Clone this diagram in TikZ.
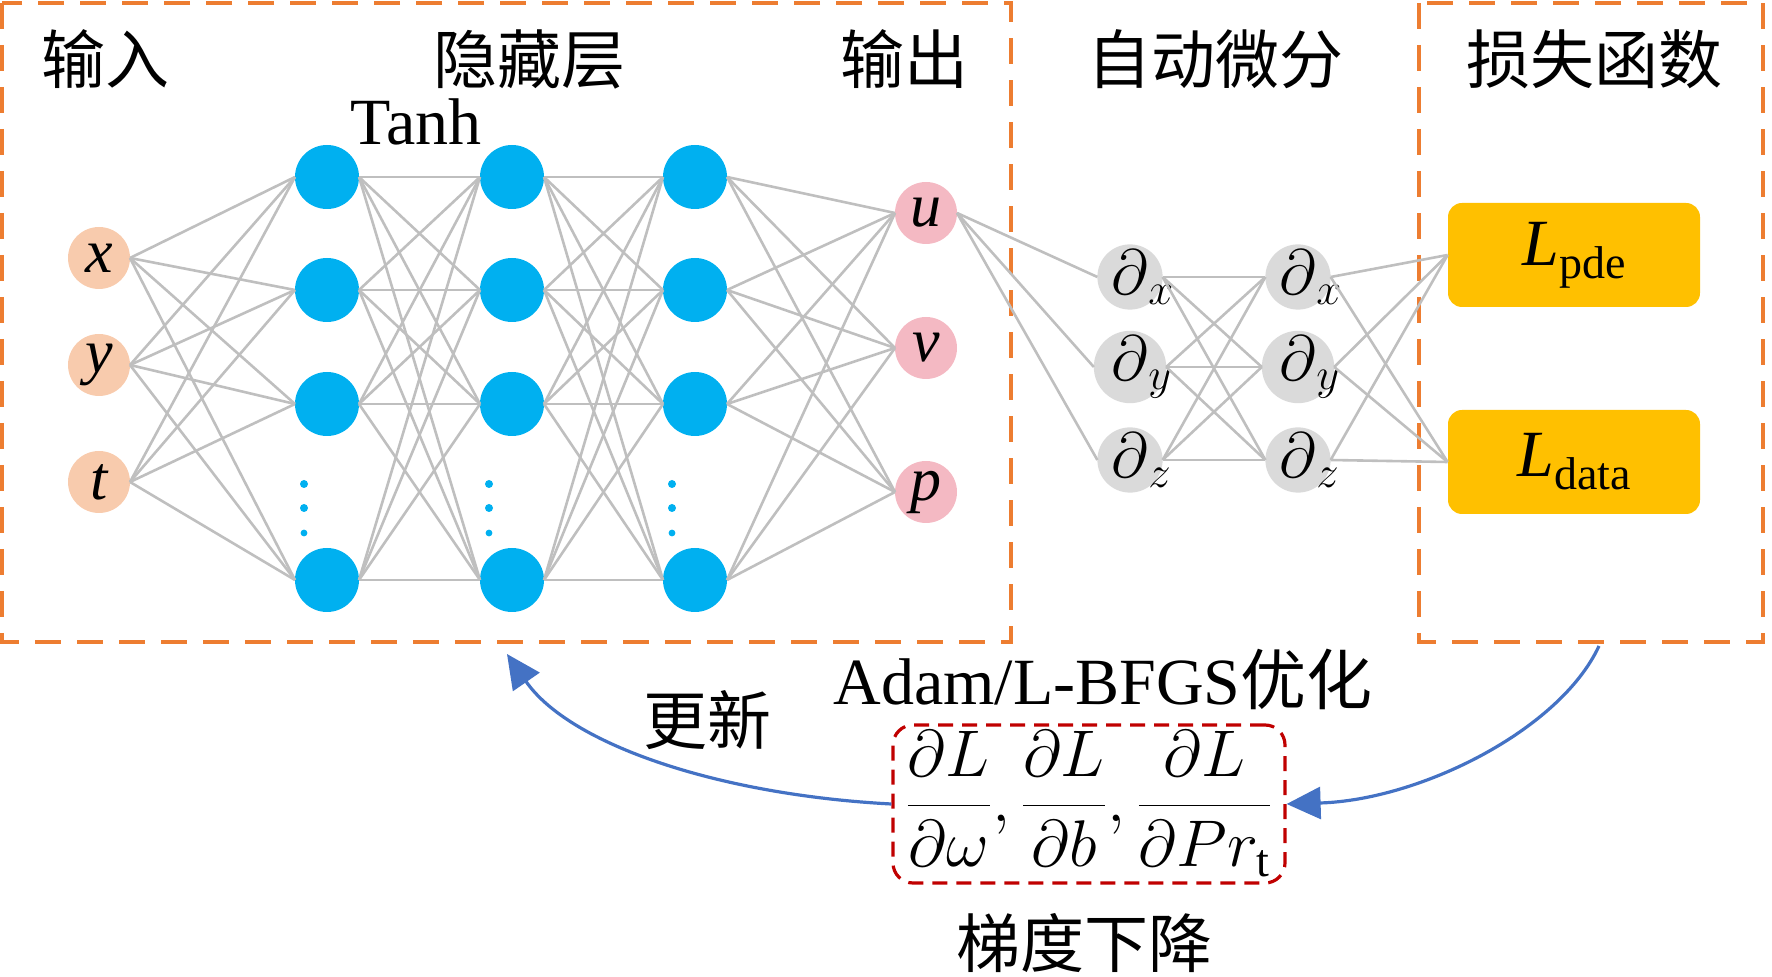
\RequirePackage{fix-cm}
\documentclass[tikz,border=0pt]{standalone}
\usepackage{fontspec}
\setmainfont{Liberation Serif}
\newfontfamily\cjk{Noto Sans CJK SC}
\usetikzlibrary{arrows.meta}

\definecolor{inorange}{HTML}{F8CBAD}
\definecolor{hidblue}{HTML}{00B0F0}
\definecolor{outpink}{HTML}{F4B9C3}
\definecolor{diffgray}{HTML}{DADADA}
\definecolor{lossgold}{HTML}{FFC000}
\definecolor{linkgray}{HTML}{BFBFBF}
\definecolor{frameorange}{HTML}{ED7D31}
\definecolor{gradred}{HTML}{C00000}
\definecolor{arrowblue}{HTML}{4472C4}

\newcommand{\losslabel}[1]{\textit{L}\raisebox{-6.5pt}{\fontsize{23}{26}\selectfont #1}}

\tikzset{
  neuron/.style={circle, inner sep=0pt, outer sep=0pt, minimum size=31pt, font=\fontsize{31}{36}\selectfont\itshape},
  innode/.style={neuron, fill=inorange},
  hidnode/.style={neuron, fill=hidblue, minimum size=32pt},
  outnode/.style={neuron, fill=outpink},
  dnode/.style={neuron, fill=diffgray, font=\fontsize{32}{38}\selectfont},
  lossbox/.style={rectangle, rounded corners=7pt, fill=lossgold, minimum width=126pt, minimum height=52pt, font=\fontsize{33}{38}\selectfont},
  link/.style={draw=linkgray, line width=1.3pt},
  frame/.style={draw=frameorange, line width=1.6pt, dash pattern=on 13pt off 8pt},
  title/.style={font=\fontsize{32}{38}\selectfont\cjk},
  updarrow/.style={draw=arrowblue, line width=1.6pt, -{Triangle[length=17pt,width=16pt]}},
}

\begin{document}
\begin{tikzpicture}[x=0.5pt,y=0.5pt,yscale=-1,xscale=1]
\useasboundingbox (0,0) rectangle (1772,977);

%Frames
\draw[frame] (2,3) rectangle (1011,642);
\draw[frame] (1419,3) rectangle (1763,642);

%Titles
\node[title] (tin) at (105,59) {输入};
\node[title] (thid) at (529,59) {隐藏层};
\node[title] (tout) at (904,59) {输出};
\node[title] (tdiff) at (1215,59) {自动微分};
\node[title] (tloss) at (1594,59) {损失函数};
\node[font=\fontsize{33}{40}\selectfont, anchor=base] (tanh) at (416,145) {Tanh};

%Input layer
\node[innode] (inx) at (99,258) {x};
\node[innode] (iny) at (99,365) {y};
\node[innode] (int) at (99,482) {t};

%Hidden layers
\foreach \c/\xx in {1/327,2/512,3/695}{
  \foreach \r/\yy in {1/177,2/290,3/404,4/580}
    \node[hidnode] (h\c\r) at (\xx,\yy) {};
  \fill[hidblue] (\xx-23,484) circle (2pt) (\xx-23,508) circle (2pt) (\xx-23,533) circle (1.7pt);
}

%Output layer
\node[outnode] (ou) at (926,213) {u};
\node[outnode] (ov) at (926,348) {v};
\node[outnode] (op) at (926,492) {p};

%Automatic differentiation
\foreach \d/\yy in {x/277,y/367,z/460}{
  \node[dnode] (d1\d) at (1130,\yy) {$\partial\rlap{$_\d$}$};
  \node[dnode] (d2\d) at (1298,\yy) {$\partial\rlap{$_\d$}$};
}

%Loss
\node[lossbox] (lpde) at (1574,255) {\losslabel{pde}};
\node[lossbox] (ldata) at (1574,462) {\losslabel{data}};

%Links
\foreach \i in {inx,iny,int} \foreach \r in {1,...,4} \draw[link] (\i.east) -- (h1\r.west);
\foreach \a/\b in {1/2,2/3} \foreach \r in {1,...,4} \foreach \s in {1,...,4} \draw[link] (h\a\r.east) -- (h\b\s.west);
\foreach \r in {1,...,4} \foreach \o in {ou,ov,op} \draw[link] (h3\r.east) -- (\o.west);
\foreach \d in {x,y,z} \draw[link] (ou.east) -- (d1\d.west);
\foreach \d in {x,y,z} \foreach \e in {x,y,z} \draw[link] (d1\d.east) -- (d2\e.west);
\foreach \d in {x,y,z} \foreach \l in {lpde,ldata} \draw[link] (d2\d.east) -- (\l.west);

%Gradient descent
\node[font=\fontsize{33}{40}\selectfont, anchor=base] (opt) at (1103,705) {Adam/L-BFGS{\cjk 优化}};
\node[draw=gradred, line width=1.6pt, dash pattern=on 7.5pt off 4.5pt, rounded corners=10pt, minimum width=196pt, minimum height=79pt, inner sep=0pt, font=\fontsize{33}{38}\selectfont] (grad) at (1089,804) {$\displaystyle\frac{\partial L}{\partial\omega},\frac{\partial L}{\partial b},\frac{\partial L}{\partial Pr_{\mathrm{t}}}$};
\node[title] (gd) at (1084,943) {梯度下降};
\node[title] (upd) at (707,720) {更新};

%Arrows
\coordinate (lossout) at (1599,646);
\coordinate (updtip) at (507,654);
\draw[updarrow] (lossout) .. controls (1560,730) and (1420,800) .. (grad.east);
\draw[updarrow] (grad.west) .. controls (720,795) and (570,745) .. (updtip);
\end{tikzpicture}
\end{document}
